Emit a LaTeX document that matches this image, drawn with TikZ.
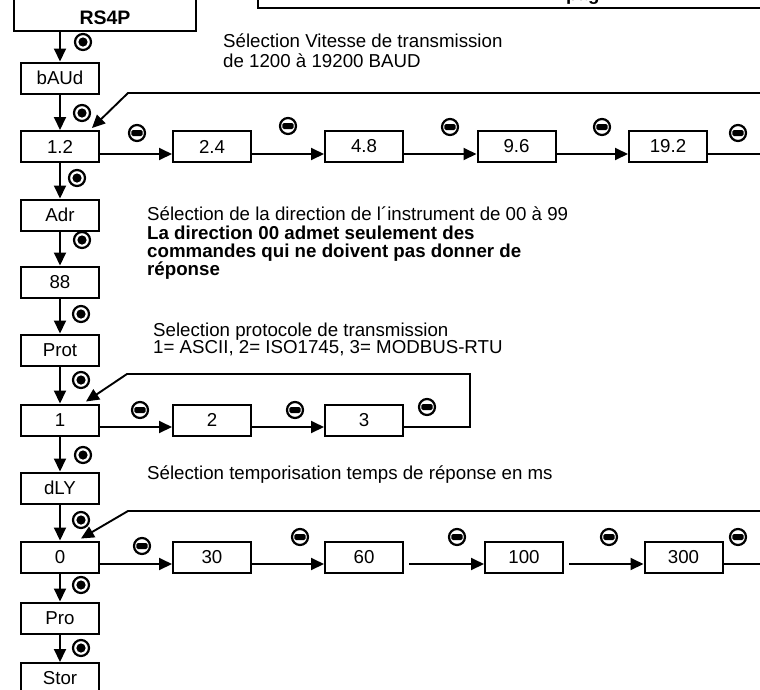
\documentclass[tikz,border=0pt]{standalone}
\usepackage{fontspec}
\setmainfont{Liberation Sans}
\usetikzlibrary{arrows.meta}
\begin{document}
\begin{tikzpicture}[x=1pt,y=-1pt,
  box/.style={draw, line width=2pt, minimum width=78pt, minimum height=31pt, inner sep=0pt, font=\fontsize{18.7}{20}\selectfont},
  conn/.style={line width=1.9pt, -{Triangle[length=13pt,width=12pt]}},
  note/.style={anchor=base west, inner sep=0pt, font=\fontsize{18.7}{20}\selectfont},
  boldnote/.style={anchor=base west, inner sep=0pt, font=\fontsize{18.7}{20}\selectfont\bfseries},
  okbtn/.pic={\draw[line width=2.2pt] (0,0) circle (8pt); \fill (0,0) circle (4.6pt);},
  minbtn/.pic={\draw[line width=2.2pt] (0,0) circle (8pt); \fill[rounded corners=1.4pt] (-5.6,-3) rectangle (5.6,3);}
]
\useasboundingbox (0,0) rectangle (760,689);
\clip (0,0) rectangle (760,689);

% header boxes
\node[draw, line width=2pt, minimum width=182pt, minimum height=60pt, inner sep=0pt, anchor=south] (rs) at (105,32) {};
\node[inner sep=0pt, font=\fontsize{19.5}{20}\selectfont\bfseries] (rstxt) at (105,18) {RS4P};
\node[draw, line width=2pt, minimum width=600pt, minimum height=60pt, inner sep=0pt, anchor=south west] (hdr) at (257,9) {};
\node[anchor=base west, inner sep=0pt, font=\fontsize{18.7}{20}\selectfont\bfseries] (hdrtxt) at (566,0.5) {pág};

% left column
\node[box] (baud) at (60,78) {bAUd};
\node[box] (b12) at (60,146.5) {1.2};
\node[box] (adr) at (60,215) {Adr};
\node[box] (n88) at (60,282) {88};
\node[box] (prot) at (60,350) {Prot};
\node[box] (p1) at (60,420) {1};
\node[box] (dly) at (60,488) {dLY};
\node[box] (d0) at (60,557) {0};
\node[box] (pro) at (60,618) {Pro};
\node[box] (stor) at (60,678.5) {Stor};

% row baud
\node[box] (b24) at (212,146.5) {2.4};
\node[box] (b48) at (364,146.5) {4.8};
\node[box] (b96) at (516.5,146.5) {9.6};
\node[box] (b192) at (668,146.5) {19.2};

% row protocol
\node[box] (p2) at (212,420) {2};
\node[box] (p3) at (364,420) {3};

% row delay
\node[box] (d30) at (212,557) {30};
\node[box] (d60) at (364,557) {60};
\node[box] (d100) at (524,557) {100};
\node[box] (d300) at (683.5,557) {300};

% notes
\node[note] (t1a) at (223,47) {Sélection Vitesse de transmission};
\node[note] (t1b) at (223,67.5) {de 1200 à 19200 BAUD};
\node[note] (t2a) at (147,220.5) {Sélection de la direction de l´instrument de 00 à 99};
\node[boldnote] (t2b) at (147,239) {La direction 00 admet seulement des};
\node[boldnote] (t2c) at (147,257) {commandes qui ne doivent pas donner de};
\node[boldnote] (t2d) at (147,275) {réponse};
\node[note] (t3a) at (153,336) {Selection protocole de transmission};
\node[note] (t3b) at (153,353) {1= ASCII, 2= ISO1745, 3= MODBUS-RTU};
\node[note] (t4a) at (147,479) {Sélection temporisation temps de réponse en ms};

% vertical flow
\draw[conn] (rs.south -| baud.north) -- (baud.north);
\draw[conn] (baud) -- (b12);
\draw[conn] (b12) -- (adr);
\draw[conn] (adr) -- (n88);
\draw[conn] (n88) -- (prot);
\draw[conn] (prot) -- (p1);
\draw[conn] (p1) -- (dly);
\draw[conn] (dly) -- (d0);
\draw[conn] (d0) -- (pro);
\draw[conn] (pro) -- (stor);

% baud row
\draw[conn] ([yshift=-7.5pt]b12.east) -- ([yshift=-7.5pt]b24.west);
\draw[conn] ([yshift=-7.5pt]b24.east) -- ([yshift=-7.5pt]b48.west);
\draw[conn] ([yshift=-7.5pt]b48.east) -- ([yshift=-7.5pt]b96.west);
\draw[conn] ([yshift=-7.5pt]b96.east) -- ([yshift=-7.5pt]b192.west);
\coordinate (l1) at (128,93);
\draw[conn] ([yshift=-7.5pt]b192.east) -- (780,154) -- (780,93) -- (l1) -- ([xshift=-8pt,yshift=2pt]b12.north east);

% protocol row
\draw[conn] ([yshift=-7pt]p1.east) -- ([yshift=-7pt]p2.west);
\draw[conn] ([yshift=-7pt]p2.east) -- ([yshift=-7pt]p3.west);
\coordinate (l2) at (127,374);
\draw[conn] ([yshift=-7pt]p3.east) -- (470,427) -- (470,374) -- (l2) -- ([xshift=-14pt,yshift=2pt]p1.north east);

% delay row
\draw[conn] ([yshift=-7pt]d0.east) -- ([yshift=-7pt]d30.west);
\draw[conn] ([yshift=-7pt]d30.east) -- ([yshift=-7pt]d60.west);
\draw[conn] ([xshift=5pt,yshift=-7pt]d60.east) -- ([yshift=-7pt]d100.west);
\draw[conn] ([xshift=5pt,yshift=-7pt]d100.east) -- ([yshift=-7pt]d300.west);
\coordinate (l3) at (128,511);
\draw[conn] ([yshift=-7pt]d300.east) -- (780,564) -- (780,511) -- (l3) -- ([xshift=-19pt,yshift=2pt]d0.north east);

% enter buttons
\pic at (83,42) {okbtn};
\pic at (82,113) {okbtn};
\pic at (77,178) {okbtn};
\pic at (82,240) {okbtn};
\pic at (81,314) {okbtn};
\pic at (81,380) {okbtn};
\pic at (83,455) {okbtn};
\pic at (81,520) {okbtn};
\pic at (81,585) {okbtn};
\pic at (81,648) {okbtn};

% minus buttons
\pic at (137,133) {minbtn};
\pic at (288,126) {minbtn};
\pic at (450,127) {minbtn};
\pic at (602,127) {minbtn};
\pic at (738,133) {minbtn};
\pic at (140,410) {minbtn};
\pic at (295,410) {minbtn};
\pic at (427,407) {minbtn};
\pic at (142,546) {minbtn};
\pic at (300,537) {minbtn};
\pic at (457,537) {minbtn};
\pic at (609,537) {minbtn};
\pic at (738,537) {minbtn};
\end{tikzpicture}
\end{document}
